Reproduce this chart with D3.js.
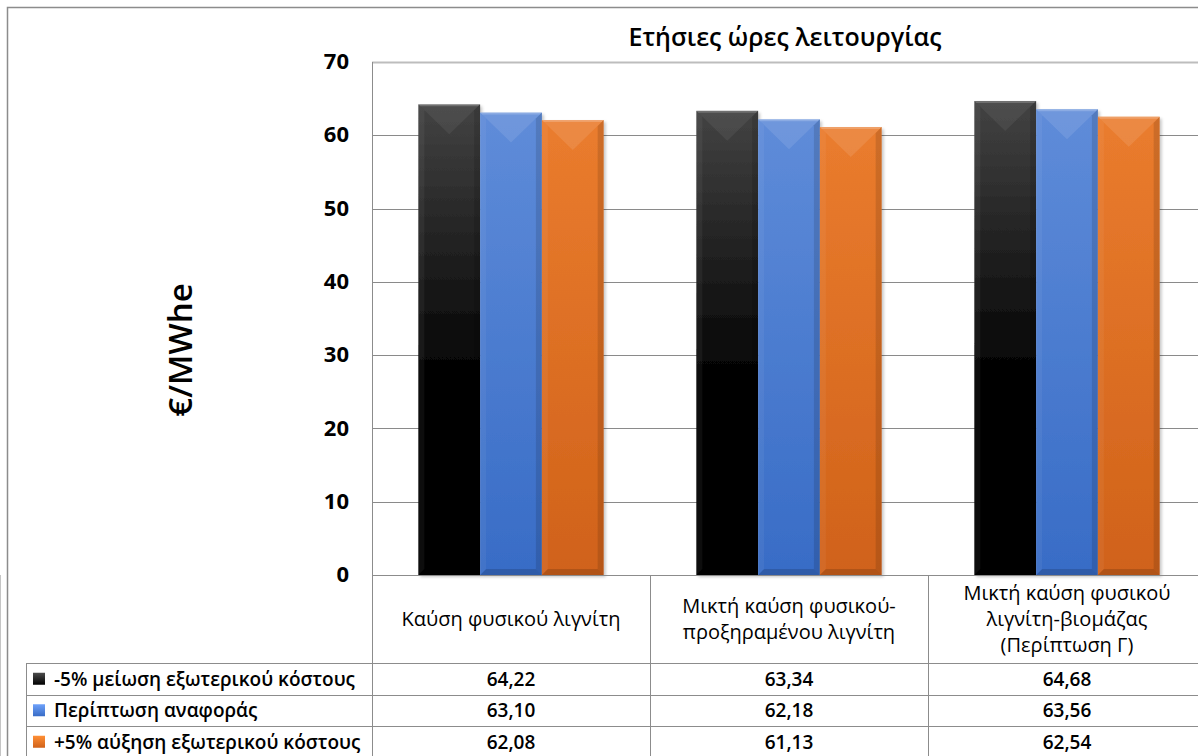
<!DOCTYPE html>
<html>
<head>
<meta charset="utf-8">
<script src="https://cdn.jsdelivr.net/npm/d3@7"></script>
<style>
  html, body { margin: 0; padding: 0; background: #fff; }
  svg { display: block; }
  text { font-family: "Open Sans", "Noto Sans", sans-serif; fill: #000; }
</style>
</head>
<body>
<svg id="chart" width="1198" height="756"></svg>
<script>
// Categories (table column headers, pre-split into lines)
const categories = [
  ["Καύση φυσικού λιγνίτη"],
  ["Μικτή καύση φυσικού-", "προξηραμένου λιγνίτη"],
  ["Μικτή καύση φυσικού", "λιγνίτη-βιομάζας", "(Περίπτωση Γ)"]
];
const seriesNames = [
  "-5% μείωση εξωτερικού κόστους",
  "Περίπτωση αναφοράς",
  "+5% αύξηση εξωτερικού κόστους"
];
const lowCost = [64.22, 63.34, 64.68];
const reference = [63.10, 62.18, 63.56];
const highCost = [62.08, 61.13, 62.54];
const seriesValues = [lowCost, reference, highCost];
const yTicks = [0, 10, 20, 30, 40, 50, 60, 70];
const title = "Ετήσιες ώρες λειτουργίας";
const yLabel = "€/MWhe";

const palette = [
  { top: "#434343", bottom: "#000000" },
  { top: "#5f8cd9", bottom: "#386cc6" },
  { top: "#ea7c2e", bottom: "#d0621a" }
];

const svg = d3.select("#chart");
const plot = { left: 372, top: 62, right: 1206, bottom: 575 };

const x = d3.scaleBand().domain(d3.range(categories.length))
  .range([plot.left, plot.right]).paddingInner(0).paddingOuter(0);
const xs = d3.scaleBand().domain(d3.range(seriesNames.length))
  .range([0, x.bandwidth()]).paddingInner(0).paddingOuter(0.75);
const y = d3.scaleLinear().domain([0, 70]).range([plot.bottom, plot.top]);

// gradients
const defs = svg.append("defs");
palette.forEach((c, i) => {
  const g = defs.append("linearGradient").attr("id", "g" + i)
    .attr("x1", 0).attr("y1", 0).attr("x2", 0).attr("y2", 1);
  g.append("stop").attr("offset", "0%").attr("stop-color", c.top);
  g.append("stop").attr("offset", i === 0 ? "60%" : "100%").attr("stop-color", c.bottom);
  g.append("stop").attr("offset", "100%").attr("stop-color", c.bottom);
  const k = defs.append("linearGradient").attr("id", "k" + i)
    .attr("x1", 0).attr("y1", 0).attr("x2", 0).attr("y2", 1);
  k.append("stop").attr("offset", "0%").attr("stop-color", d3.color(c.top).brighter(0.4));
  k.append("stop").attr("offset", "100%").attr("stop-color", c.bottom);
});
const shadow = defs.append("filter").attr("id", "shadow")
  .attr("x", "-10%").attr("y", "-10%").attr("width", "130%").attr("height", "130%");
shadow.append("feDropShadow").attr("dx", 2).attr("dy", 2).attr("stdDeviation", 1.5)
  .attr("flood-color", "#000").attr("flood-opacity", 0.22);

// outer frame
svg.append("path").attr("d", "M7.5,756 V7.5 H1198")
  .attr("fill", "none").attr("stroke", "#8c8c8c").attr("stroke-width", 1.5);

// title
svg.append("text").attr("x", 785).attr("y", 46).attr("text-anchor", "middle")
  .attr("font-size", 25).attr("font-weight", 600).text(title);

// gridlines
svg.append("g").selectAll("line").data(yTicks.filter(t => t > 0)).join("line")
  .attr("x1", plot.left).attr("x2", plot.right)
  .attr("y1", d => Math.round(y(d)) + 0.5).attr("y2", d => Math.round(y(d)) + 0.5)
  .attr("stroke", d => d === 70 ? "#bdbdbd" : "#8a8a8a")
  .attr("stroke-width", d => d === 70 ? 2 : 1);

// y-axis via d3 axis, styled
const yAxis = svg.append("g").attr("transform", `translate(${plot.left},0)`)
  .call(d3.axisLeft(y).tickValues(yTicks).tickSize(0).tickPadding(23));
yAxis.select(".domain").remove();
yAxis.selectAll("text").attr("font-size", 22).attr("font-weight", 700)
  .attr("font-family", "'Open Sans', sans-serif").attr("fill", "#000")
  .attr("dy", "0.3em");

// y label
svg.append("text").attr("transform", "translate(192,350) rotate(-90)")
  .attr("text-anchor", "middle").attr("font-size", 33).attr("font-weight", 600)
  .text(yLabel);

// bars with bevel
const bars = svg.append("g");
seriesValues.forEach((vals, s) => {
  vals.forEach((v, c) => {
    const x0 = x(c) + xs(s), w = xs.bandwidth();
    const y0 = y(v), y1 = y(0), h = y1 - y0;
    const g = bars.append("g");
    g.append("rect").attr("x", x0).attr("y", y0).attr("width", w).attr("height", h)
      .attr("fill", `url(#g${s})`).attr("filter", "url(#shadow)");
    const b = 30, e = 6;
    // top bevel
    g.append("path").attr("d", `M${x0},${y0} L${x0 + w},${y0} L${x0 + w / 2},${y0 + b} Z`)
      .attr("fill", "#fff").attr("opacity", s === 0 ? 0.06 : 0.1);
    g.append("path").attr("d", `M${x0},${y0} L${x0 + w},${y0} L${x0 + w - 2},${y0 + 2} L${x0 + 2},${y0 + 2} Z`)
      .attr("fill", "#fff").attr("opacity", 0.2);
    // right edge shade
    g.append("path").attr("d", `M${x0 + w},${y0} L${x0 + w},${y1} L${x0 + w - e},${y1 - e} L${x0 + w - e},${y0 + e} Z`)
      .attr("fill", "#000").attr("opacity", 0.12);
    // left edge highlight
    g.append("path").attr("d", `M${x0},${y0} L${x0},${y1} L${x0 + e},${y1 - e} L${x0 + e},${y0 + e} Z`)
      .attr("fill", "#fff").attr("opacity", 0.05);
    // bottom bevel
    g.append("path").attr("d", `M${x0},${y1} L${x0 + w},${y1} L${x0 + w - e},${y1 - e} L${x0 + e},${y1 - e} Z`)
      .attr("fill", "#000").attr("opacity", 0.15);
  });
});

// data table
const tbl = svg.append("g");
const rowTop = 663, rowH = 31.5;
const tLeft = 26;
const lineColor = "#8c8c8c";
tbl.append("line").attr("x1", plot.left).attr("x2", plot.right)
  .attr("y1", plot.bottom + 0.5).attr("y2", plot.bottom + 0.5).attr("stroke", lineColor);
tbl.append("line").attr("x1", plot.left + 0.5).attr("x2", plot.left + 0.5)
  .attr("y1", plot.top).attr("y2", 756).attr("stroke", lineColor);
d3.range(1, categories.length + 1).forEach(c => {
  tbl.append("line").attr("x1", x(c) + 0.5).attr("x2", x(c) + 0.5)
    .attr("y1", plot.bottom).attr("y2", 756).attr("stroke", lineColor);
});
d3.range(seriesNames.length + 1).forEach(r => {
  const yy = Math.round(rowTop + r * rowH) + 0.5;
  tbl.append("line").attr("x1", tLeft).attr("x2", plot.right)
    .attr("y1", yy).attr("y2", yy).attr("stroke", lineColor);
});
tbl.append("line").attr("x1", tLeft + 0.5).attr("x2", tLeft + 0.5)
  .attr("y1", rowTop).attr("y2", 756).attr("stroke", lineColor);

// category headers
categories.forEach((lines, c) => {
  const cx = x(c) + x.bandwidth() / 2;
  const mid = (plot.bottom + rowTop) / 2 + 7;
  lines.forEach((ln, i) => {
    tbl.append("text").attr("x", cx)
      .attr("y", mid + (i - (lines.length - 1) / 2) * 26)
      .attr("text-anchor", "middle").attr("font-size", 20).text(ln);
  });
});

// legend keys, names and values
seriesNames.forEach((name, s) => {
  const cy = rowTop + s * rowH + rowH / 2;
  tbl.append("rect").attr("x", 33).attr("y", cy - 6).attr("width", 12).attr("height", 12)
    .attr("fill", `url(#k${s})`);
  tbl.append("text").attr("x", 54).attr("y", cy + 7).attr("font-size", 19)
    .attr("font-weight", 600).text(name);
  seriesValues[s].forEach((v, c) => {
    tbl.append("text").attr("x", x(c) + x.bandwidth() / 2).attr("y", cy + 7)
      .attr("text-anchor", "middle").attr("font-size", 19).attr("font-weight", 600)
      .text(d3.format(".2f")(v).replace(".", ","));
  });
});
</script>
</body>
</html>
